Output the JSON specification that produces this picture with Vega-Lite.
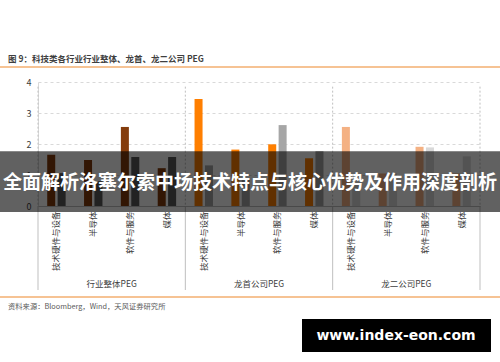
{
  "$schema": "https://vega.github.io/schema/vega-lite/v6.json",
  "width": 442,
  "height": 124,
  "autosize": {"type": "none"},
  "padding": {"left": 38, "top": 82, "right": 20, "bottom": 156},
  "background": "white",
  "config": {
    "view": {"stroke": null},
    "font": "Noto Sans CJK SC",
    "axis": {"labelFont": "Noto Sans CJK SC"}
  },
  "title": {
    "text": "图 9：科技类各行业行业整体、龙首、龙二公司 PEG",
    "anchor": "start",
    "frame": "group",
    "dx": -30,
    "offset": 2.5,
    "fontSize": 8.5,
    "fontWeight": "bold",
    "color": "#3f3f3f",
    "font": "Noto Sans CJK SC"
  },
  "datasets": {
    "bars": [
      {"组": "行业整体PEG", "类目": "行业整体PEG|技术硬件与设备", "系列": "系列1", "PEG": 1.65},
      {"组": "行业整体PEG", "类目": "行业整体PEG|技术硬件与设备", "系列": "系列2", "PEG": 1.06},
      {"组": "行业整体PEG", "类目": "行业整体PEG|半导体", "系列": "系列1", "PEG": 1.48},
      {"组": "行业整体PEG", "类目": "行业整体PEG|半导体", "系列": "系列2", "PEG": 0.8},
      {"组": "行业整体PEG", "类目": "行业整体PEG|软件与服务", "系列": "系列1", "PEG": 2.55},
      {"组": "行业整体PEG", "类目": "行业整体PEG|软件与服务", "系列": "系列2", "PEG": 1.58},
      {"组": "行业整体PEG", "类目": "行业整体PEG|媒体", "系列": "系列1", "PEG": 1.22},
      {"组": "行业整体PEG", "类目": "行业整体PEG|媒体", "系列": "系列2", "PEG": 1.58},
      {"组": "龙首公司PEG", "类目": "龙首公司PEG|技术硬件与设备", "系列": "系列1", "PEG": 3.45},
      {"组": "龙首公司PEG", "类目": "龙首公司PEG|技术硬件与设备", "系列": "系列2", "PEG": 1.31},
      {"组": "龙首公司PEG", "类目": "龙首公司PEG|半导体", "系列": "系列1", "PEG": 1.82},
      {"组": "龙首公司PEG", "类目": "龙首公司PEG|半导体", "系列": "系列2", "PEG": 0.85},
      {"组": "龙首公司PEG", "类目": "龙首公司PEG|软件与服务", "系列": "系列1", "PEG": 1.99},
      {"组": "龙首公司PEG", "类目": "龙首公司PEG|软件与服务", "系列": "系列2", "PEG": 2.61},
      {"组": "龙首公司PEG", "类目": "龙首公司PEG|媒体", "系列": "系列1", "PEG": 1.54},
      {"组": "龙首公司PEG", "类目": "龙首公司PEG|媒体", "系列": "系列2", "PEG": 1.77},
      {"组": "龙二公司PEG", "类目": "龙二公司PEG|技术硬件与设备", "系列": "系列1", "PEG": 2.55},
      {"组": "龙二公司PEG", "类目": "龙二公司PEG|技术硬件与设备", "系列": "系列2", "PEG": 0.75},
      {"组": "龙二公司PEG", "类目": "龙二公司PEG|半导体", "系列": "系列1", "PEG": 1.05},
      {"组": "龙二公司PEG", "类目": "龙二公司PEG|半导体", "系列": "系列2", "PEG": 1.05},
      {"组": "龙二公司PEG", "类目": "龙二公司PEG|软件与服务", "系列": "系列1", "PEG": 1.91},
      {"组": "龙二公司PEG", "类目": "龙二公司PEG|软件与服务", "系列": "系列2", "PEG": 1.89},
      {"组": "龙二公司PEG", "类目": "龙二公司PEG|媒体", "系列": "系列1", "PEG": 1.05},
      {"组": "龙二公司PEG", "类目": "龙二公司PEG|媒体", "系列": "系列2", "PEG": 1.6}
    ],
    "leftEdges": [
      {"类目": "行业整体PEG|技术硬件与设备"},
      {"类目": "龙首公司PEG|技术硬件与设备"},
      {"类目": "龙二公司PEG|技术硬件与设备"}
    ],
    "rightEdge": [
      {"类目": "龙二公司PEG|媒体"}
    ],
    "groups": [
      {"组": "行业整体PEG", "类目": "行业整体PEG|半导体"},
      {"组": "龙首公司PEG", "类目": "龙首公司PEG|半导体"},
      {"组": "龙二公司PEG", "类目": "龙二公司PEG|半导体"}
    ],
    "notes": [
      {"文本": "资料来源：Bloomberg，Wind，天风证券研究所"}
    ],
    "banner": [
      {"文本": "全面解析洛塞尔索中场技术特点与核心优势及作用深度剖析"}
    ],
    "mark": [
      {"文本": "www.index-eon.com"}
    ]
  },
  "layer": [
    {
      "data": {"name": "bars"},
      "transform": [{"filter": "datum['系列'] === '系列1'"}],
      "mark": {"type": "bar"},
      "encoding": {
        "x": {
          "field": "类目",
          "type": "nominal",
          "scale": {
            "domain": [
              "行业整体PEG|技术硬件与设备", "行业整体PEG|半导体", "行业整体PEG|软件与服务", "行业整体PEG|媒体",
              "龙首公司PEG|技术硬件与设备", "龙首公司PEG|半导体", "龙首公司PEG|软件与服务", "龙首公司PEG|媒体",
              "龙二公司PEG|技术硬件与设备", "龙二公司PEG|半导体", "龙二公司PEG|软件与服务", "龙二公司PEG|媒体"
            ],
            "paddingInner": 0,
            "paddingOuter": 0
          },
          "axis": {
            "title": null,
            "labelAngle": 270,
            "labelExpr": "split(datum.label, '|')[1]",
            "ticks": false,
            "domainColor": "#bfbfbf",
            "labelFontSize": 8.5,
            "labelColor": "#404040",
            "labelPadding": 5,
            "labelOverlap": false
          }
        },
        "y": {
          "field": "PEG",
          "type": "quantitative",
          "scale": {"domain": [0, 4], "nice": false},
          "axis": {
            "title": null,
            "values": [0, 1, 2, 3, 4],
            "grid": true,
            "gridDash": [3, 3],
            "gridColor": "#d9d9d9",
            "domainColor": "#d9d9d9",
            "ticks": false,
            "labelPadding": 7,
            "labelFontSize": 9,
            "labelColor": "#404040",
            "labelOverlap": false
          }
        },
        "xOffset": {"field": "系列", "type": "nominal", "scale": {"domain": ["系列1", "系列2"], "paddingInner": 0.23, "paddingOuter": 0.885}},
        "color": {"field": "组", "type": "nominal", "scale": {"domain": ["行业整体PEG", "龙首公司PEG", "龙二公司PEG"], "range": ["#843c0c", "#ff7f00", "#f4b183"]}, "legend": null}
      }
    },
    {
      "data": {"name": "bars"},
      "transform": [{"filter": "datum['系列'] === '系列2'"}],
      "mark": {"type": "bar"},
      "encoding": {
        "x": {"field": "类目", "type": "nominal"},
        "y": {"field": "PEG", "type": "quantitative", "axis": {"values": [0, 1, 2, 3, 4]}},
        "xOffset": {"field": "系列", "type": "nominal", "scale": {"domain": ["系列1", "系列2"], "paddingInner": 0.23, "paddingOuter": 0.885}},
        "color": {"field": "组", "type": "nominal", "scale": {"domain": ["行业整体PEG", "龙首公司PEG", "龙二公司PEG"], "range": ["#595959", "#a6a6a6", "#d9d9d9"]}, "legend": null}
      }
    },
    {
      "data": {"name": "leftEdges"},
      "mark": {"type": "rule", "color": "#bfbfbf", "strokeDash": [2, 2]},
      "encoding": {"x": {"field": "类目", "type": "nominal", "bandPosition": 0}, "y": {"datum": 3.85, "axis": {"values": [0, 1, 2, 3, 4]}}, "y2": {"datum": 0}}
    },
    {
      "data": {"name": "leftEdges"},
      "mark": {"type": "rule", "color": "#bfbfbf"},
      "encoding": {"x": {"field": "类目", "type": "nominal", "bandPosition": 0}, "y": {"datum": 0, "axis": {"values": [0, 1, 2, 3, 4]}}, "y2": {"datum": -2.71}}
    },
    {
      "data": {"name": "rightEdge"},
      "mark": {"type": "rule", "color": "#bfbfbf", "strokeDash": [2, 2]},
      "encoding": {"x": {"field": "类目", "type": "nominal", "bandPosition": 1}, "y": {"datum": 3.85, "axis": {"values": [0, 1, 2, 3, 4]}}, "y2": {"datum": 0}}
    },
    {
      "data": {"name": "rightEdge"},
      "mark": {"type": "rule", "color": "#bfbfbf"},
      "encoding": {"x": {"field": "类目", "type": "nominal", "bandPosition": 1}, "y": {"datum": 0, "axis": {"values": [0, 1, 2, 3, 4]}}, "y2": {"datum": -2.71}}
    },
    {
      "data": {"name": "groups"},
      "mark": {"type": "text", "fontSize": 8.5, "color": "#404040", "font": "Noto Sans CJK SC", "baseline": "middle", "align": "center"},
      "encoding": {
        "x": {"field": "类目", "type": "nominal", "bandPosition": 1},
        "y": {"datum": -2.52, "axis": {"values": [0, 1, 2, 3, 4]}},
        "text": {"field": "组"}
      }
    },
    {
      "data": {"name": "notes"},
      "mark": {"type": "rule", "color": "#f6c394", "strokeWidth": 2},
      "encoding": {"x": {"value": -38}, "x2": {"value": 462}, "y": {"datum": 4.48, "axis": {"values": [0, 1, 2, 3, 4]}}}
    },
    {
      "data": {"name": "notes"},
      "mark": {"type": "rule", "color": "#f6c394", "strokeWidth": 2},
      "encoding": {"x": {"value": -38}, "x2": {"value": 462}, "y": {"datum": -2.935, "axis": {"values": [0, 1, 2, 3, 4]}}}
    },
    {
      "data": {"name": "notes"},
      "mark": {"type": "text", "fontSize": 7.3, "color": "#595959", "font": "Noto Sans CJK SC", "align": "left", "baseline": "middle"},
      "encoding": {"x": {"value": -30}, "y": {"datum": -3.26, "axis": {"values": [0, 1, 2, 3, 4]}}, "text": {"field": "文本"}}
    },
    {
      "data": {"name": "banner"},
      "mark": {"type": "rect", "color": "black", "opacity": 0.62},
      "encoding": {"x": {"value": -38}, "x2": {"value": 462}, "y": {"datum": 1.77, "axis": {"values": [0, 1, 2, 3, 4]}}, "y2": {"datum": -0.19}}
    },
    {
      "data": {"name": "banner"},
      "mark": {"type": "text", "fontSize": 19, "fontWeight": "bold", "color": "white", "font": "Noto Sans CJK SC", "align": "center", "baseline": "middle"},
      "encoding": {"x": {"value": 212}, "y": {"datum": 0.74, "axis": {"values": [0, 1, 2, 3, 4]}}, "text": {"field": "文本"}}
    },
    {
      "data": {"name": "mark"},
      "mark": {"type": "rect", "color": "black"},
      "encoding": {"x": {"value": 264}, "x2": {"value": 453}, "y": {"datum": -3.645, "axis": {"values": [0, 1, 2, 3, 4]}}, "y2": {"datum": -4.71}}
    },
    {
      "data": {"name": "mark"},
      "mark": {"type": "text", "fontSize": 14, "fontWeight": "bold", "color": "white", "font": "DejaVu Sans", "align": "center", "baseline": "middle"},
      "encoding": {"x": {"value": 358}, "y": {"datum": -4.19, "axis": {"values": [0, 1, 2, 3, 4]}}, "text": {"field": "文本"}}
    }
  ],
  "resolve": {"scale": {"color": "independent"}}
}
